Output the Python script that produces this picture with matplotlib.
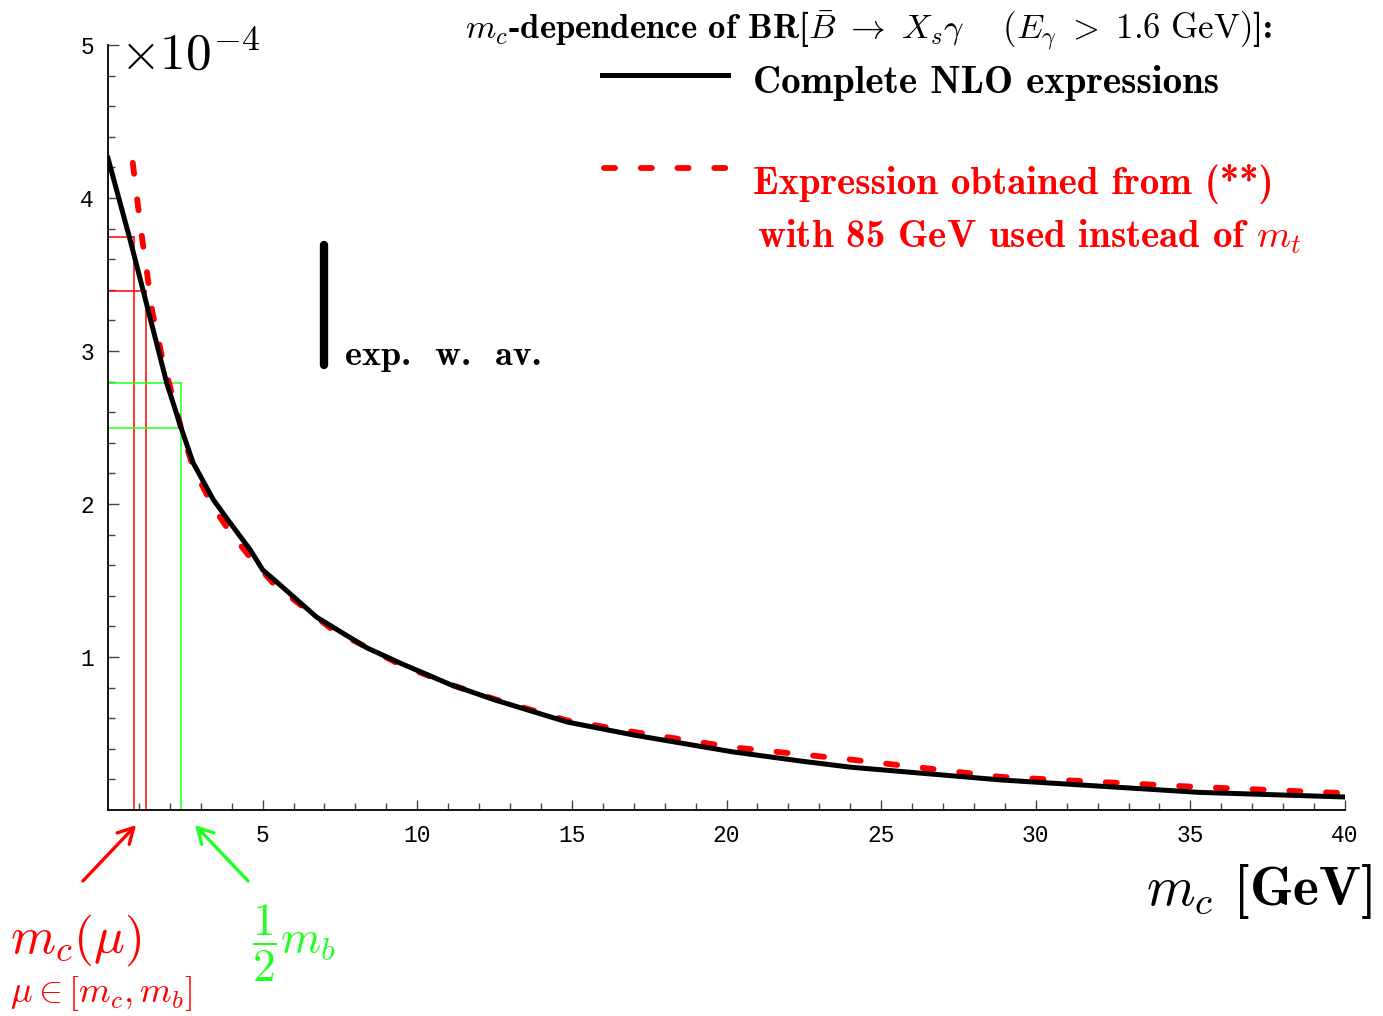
import matplotlib
matplotlib.use("Agg")
import matplotlib.pyplot as plt
from matplotlib.patches import FancyArrowPatch

plt.rcParams["mathtext.fontset"] = "cm"

# black: complete NLO expressions
mc_nlo = [0.0, 0.71, 1.13, 1.9, 2.36, 2.75, 3.4, 3.9, 4.6, 5.0, 5.4, 6.75,
          8.37, 9.45, 11.07, 12.5, 14.85, 17.0, 20.2, 22.4, 24.0, 28.9, 35.3, 40.0]
br_nlo = [4.26, 3.73, 3.40, 2.79, 2.50, 2.27, 2.03, 1.89, 1.70, 1.57, 1.50, 1.26,
          1.06, 0.96, 0.82, 0.72, 0.575, 0.49, 0.38, 0.32, 0.28, 0.196, 0.115, 0.085]

# red dashed: expression from (**) with 85 GeV instead of m_t
mc_85 = [0.8, 0.95, 1.1, 1.27, 1.43, 1.75, 2.36, 2.75, 3.4, 3.9, 4.6, 5.4,
         7.25, 9.45, 11.07, 12.5, 14.85, 17.0, 20.2, 24.0, 28.9, 35.3, 40.0]
br_85 = [4.23, 3.98, 3.74, 3.50, 3.26, 2.96, 2.50, 2.24, 1.98, 1.83, 1.65, 1.47,
         1.18, 0.95, 0.82, 0.725, 0.585, 0.51, 0.41, 0.33, 0.216, 0.15, 0.11]

# m_c(mu) range (red) and m_b/2 (green) markers
mc_mu = [0.84, 1.23]
br_mu = [3.745, 3.39]
mb_half = 2.36
br_mb_half = [2.79, 2.50]

# experimental world average
exp_x = 7.0
exp_lo, exp_hi = 2.91, 3.69

xticks = [5, 10, 15, 20, 25, 30, 35, 40]
yticks = [1, 2, 3, 4, 5]

RED = "#ff0000"
GREEN = "#22ff22"
DASH = (1.9, 4.4)

fig = plt.figure(figsize=(13.83, 10.16), dpi=100)
ax = fig.add_axes([108 / 1383, 1 - 810 / 1016, (1345 - 108) / 1383, (810 - 45) / 1016])

for x, y in zip(mc_mu, br_mu):
    ax.plot([x, x], [0, y], color=RED, lw=1.1)
    ax.plot([0, x], [y, y], color=RED, lw=1.1)
ax.plot([mb_half, mb_half], [0, max(br_mb_half)], color=GREEN, lw=1.1)
for y in br_mb_half:
    ax.plot([0, mb_half], [y, y], color=GREEN, lw=1.1)

ax.plot(mc_85, br_85, color=RED, lw=4.2, dashes=DASH, dash_capstyle="round", zorder=3)
ax.plot(mc_nlo, br_nlo, color="black", lw=3.6, zorder=4)

ax.plot([exp_x, exp_x], [exp_lo, exp_hi], color="black", lw=6, solid_capstyle="round")
ax.text(exp_x + 0.65, exp_lo, "exp.  w.  av.", fontfamily="cmb10", fontsize=26,
        ha="left", va="baseline")

ax.set_xlim(0, 40)
ax.set_ylim(0, 5)
ax.set_xticks(xticks)
ax.set_yticks(yticks)
ax.set_xticks(range(1, 40), minor=True)
ax.set_yticks([i * 0.2 for i in range(1, 25)], minor=True)
for lab in ax.get_xticklabels() + ax.get_yticklabels():
    lab.set_fontfamily("Liberation Mono")
    lab.set_fontsize(16.5)
ax.tick_params(which="both", direction="in", width=1.0, color="#444444")
ax.tick_params(axis="x", which="major", length=7, pad=10)
ax.tick_params(axis="x", which="minor", length=5)
ax.tick_params(axis="y", which="major", length=8, pad=10)
ax.tick_params(axis="y", which="minor", length=5)
for s in ["top", "right"]:
    ax.spines[s].set_visible(False)
for s in ["left", "bottom"]:
    ax.spines[s].set_linewidth(1.3)

# scale factor
fig.text(120 / 1383, 1 - 70 / 1016, r"$\times10^{-4}$", fontsize=37, ha="left", va="baseline")

# header and legend
fig.text(465 / 1383, 1 - 39 / 1016,
         r"$m_c$-dependence of BR[$\bar{B}\ \to\ X_s\gamma\quad\ (E_\gamma\ >\ 1.6\ \mathrm{GeV})$]:",
         fontfamily="cmb10", fontsize=25, ha="left", va="baseline")
fig.add_artist(plt.Line2D([602 / 1383, 728 / 1383], [1 - 75 / 1016, 1 - 75 / 1016],
                          color="black", lw=3.6))
fig.text(753 / 1383, 1 - 93 / 1016, "Complete NLO expressions",
         fontfamily="cmb10", fontsize=28, ha="left", va="baseline")
fig.add_artist(plt.Line2D([604 / 1383, 728 / 1383], [1 - 168 / 1016, 1 - 168 / 1016],
                          color=RED, lw=4.2, dashes=DASH, dash_capstyle="round"))
fig.text(753 / 1383, 1 - 194 / 1016, "Expression obtained from (**)", color=RED,
         fontfamily="cmb10", fontsize=28, ha="left", va="baseline")
fig.text(757 / 1383, 1 - 247 / 1016, r"with 85 GeV used instead of $m_t$", color=RED,
         fontfamily="cmb10", fontsize=28, ha="left", va="baseline")

# x axis label
fig.text(1372 / 1383, 1 - 905 / 1016, r"$m_c$ [GeV]", fontfamily="cmb10", fontsize=40,
         ha="right", va="baseline")

# annotations below the axis
fig.add_artist(FancyArrowPatch((81 / 1383, 1 - 883 / 1016), (138 / 1383, 1 - 823 / 1016),
                               transform=fig.transFigure,
                               arrowstyle="->,head_length=11,head_width=6",
                               color=RED, lw=2.4))
fig.add_artist(FancyArrowPatch((250 / 1383, 1 - 883 / 1016), (193 / 1383, 1 - 823 / 1016),
                               transform=fig.transFigure,
                               arrowstyle="->,head_length=11,head_width=6",
                               color=GREEN, lw=2.4))
fig.text(10 / 1383, 1 - 953 / 1016, r"$m_c(\mu)$", color=RED, fontsize=37,
         ha="left", va="baseline")
fig.text(10 / 1383, 1 - 1002 / 1016, r"$\mu\in[m_c,m_b]$", color=RED, fontsize=26,
         ha="left", va="baseline")
fig.text(252 / 1383, 1 - 953 / 1016, r"$\dfrac{1}{2}m_b$", color=GREEN, fontsize=33,
         ha="left", va="baseline")

fig.savefig("out.png", dpi=100)
